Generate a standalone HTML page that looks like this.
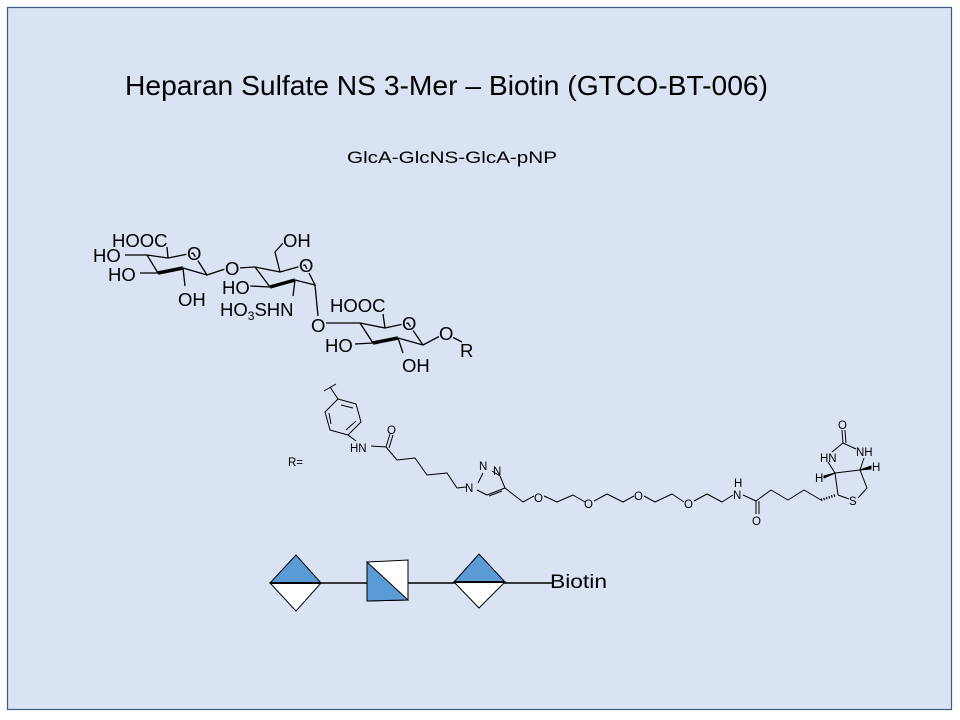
<!DOCTYPE html>
<html><head><meta charset="utf-8"><style>
html,body{margin:0;padding:0;background:#fff;width:960px;height:720px;overflow:hidden}
svg{display:block}
text{font-family:"Liberation Sans",sans-serif;fill:#000}
.m{stroke:#dae3f3;stroke-width:3;paint-order:stroke}
</style></head><body>
<svg width="960" height="720" viewBox="0 0 960 720" xmlns="http://www.w3.org/2000/svg">
<rect x="7.5" y="7.5" width="944" height="702" fill="#dae3f3" stroke="#3d5a80" stroke-width="1.2"/>
<text x="125" y="95" font-size="28" textLength="643" lengthAdjust="spacingAndGlyphs">Heparan Sulfate NS 3-Mer – Biotin (GTCO-BT-006)</text>
<text x="347" y="163" font-size="17" textLength="210" lengthAdjust="spacingAndGlyphs">GlcA-GlcNS-GlcA-pNP</text>

<g stroke="#000" stroke-width="1.3" fill="none" stroke-linejoin="round">
<!-- ring1 -->
<polyline points="147,255 158,273"/>
<polyline points="158,273 183,268" stroke-width="3.5"/>
<polyline points="183,268 207,275 193,253 168,258 147,255"/>
<line x1="168" y1="258" x2="167" y2="247"/>
<line x1="147" y1="255" x2="125" y2="255"/>
<line x1="158" y1="273" x2="140" y2="273"/>
<line x1="183" y1="268" x2="185" y2="286"/>
<line x1="207" y1="275" x2="228" y2="268"/>
<!-- ring2 -->
<line x1="238" y1="268" x2="255" y2="267"/>
<polyline points="255,267 270,287"/>
<polyline points="270,287 295,280" stroke-width="3.5"/>
<polyline points="295,280 315,285 305,265 280,272 255,267"/>
<polyline points="280,272 275,252 284,242"/>
<line x1="270" y1="287" x2="250" y2="286"/>
<line x1="295" y1="280" x2="293" y2="296"/>
<line x1="315" y1="285" x2="318" y2="316"/>
<!-- ring3 -->
<line x1="326" y1="323" x2="360" y2="323"/>
<polyline points="360,323 373,343"/>
<polyline points="373,343 398,338" stroke-width="3.5"/>
<polyline points="398,338 423,345 408,323 385,328 360,323"/>
<line x1="385" y1="328" x2="383" y2="314"/>
<line x1="373" y1="343" x2="355" y2="344"/>
<line x1="398" y1="338" x2="403" y2="353"/>
<line x1="423" y1="345" x2="440" y2="336"/>
<line x1="452" y1="337" x2="462" y2="342"/>
</g>
<g font-size="18.5">
<text x="112" y="247" class="m">HOOC</text>
<text x="93" y="262" class="m">HO</text>
<text x="108" y="281" class="m">HO</text>
<text x="178" y="306" class="m">OH</text>
<text x="187" y="260" class="m">O</text>
<text x="225" y="275" class="m">O</text>
<text x="283" y="247" class="m">OH</text>
<text x="299" y="272" class="m">O</text>
<text x="222" y="294" class="m">HO</text>
<text x="220" y="316" class="m">HO<tspan font-size="12" dy="4">3</tspan><tspan dy="-4">SHN</tspan></text>
<text x="311" y="332" class="m">O</text>
<text x="330" y="312" class="m">HOOC</text>
<text x="402" y="330" class="m">O</text>
<text x="325" y="352" class="m">HO</text>
<text x="402" y="372" class="m">OH</text>
<text x="439" y="340" class="m">O</text>
<text x="460" y="357">R</text>
</g>

<!-- R chain -->
<g stroke="#000" stroke-width="1" fill="none" stroke-linejoin="round">
<polygon points="338,399 356,404 361,422 348,435 330,430 325,412"/>
<line x1="341" y1="405" x2="353" y2="408"/>
<line x1="356" y1="421" x2="346" y2="430"/>
<line x1="331" y1="424" x2="329" y2="413"/>
<line x1="338" y1="399" x2="330" y2="387"/>
<line x1="324" y1="391" x2="336" y2="384"/>
<line x1="348" y1="435" x2="356" y2="441"/>
<polyline points="371,446 386,447 397,460 415,458 427,475 447,473 457,488 466,487"/>
<line x1="386" y1="447" x2="390" y2="434"/><line x1="389" y1="448" x2="393" y2="435"/>
<polyline points="478,483 483,473"/>
<polyline points="492,471 500,476 505,488 487,495 477,490"/>
<line x1="502" y1="491" x2="489" y2="496"/>
<polyline points="505,488 523,502 534,496"/>
<polyline points="544,496 557,502 573,495 585,502"/>
<polyline points="594,501 607,494 623,502 634,496"/>
<polyline points="644,496 655,502 672,494 684,502"/>
<polyline points="694,501 707,494 722,502 733,495"/>
<polyline points="743,495 756,501 771,490 788,500 804,490 821,500"/>
<line x1="756" y1="501" x2="756" y2="514"/><line x1="759" y1="501" x2="759" y2="514"/>
<line x1="821" y1="500" x2="836" y2="495" stroke-dasharray="1.2 1.5" stroke-width="2.5"/>
<polyline points="838,495 849,499"/>
<polyline points="858,498 867,488 860,470 835,473 838,495"/>
<polyline points="835,473 828,462"/><polyline points="860,470 864,458"/>
<polyline points="832,452 843,443 856,449"/>
<line x1="843" y1="443" x2="842" y2="430"/><line x1="846" y1="443" x2="845" y2="430"/>
<polygon points="835,473 824,478 824,476" fill="#000"/>
<polygon points="860,470 871,466 871,469" fill="#000"/>
</g>
<g font-size="11.5">
<text x="288" y="466">R=</text>
<text x="350" y="452">HN</text>
<text x="387" y="434">O</text>
<text x="465" y="492">N</text>
<text x="479" y="470">N</text><text x="493" y="475">N</text>
<text x="534" y="502">O</text>
<text x="584" y="508">O</text>
<text x="634" y="500">O</text>
<text x="684" y="508">O</text>
<text x="733" y="499">N</text><text x="734" y="487">H</text>
<text x="752" y="525">O</text>
<text x="849" y="505">S</text>
<text x="820" y="462">HN</text>
<text x="856" y="456">NH</text>
<text x="838" y="429">O</text>
<text x="815" y="482">H</text>
<text x="872" y="471">H</text>
</g>

<!-- symbol chain -->
<line x1="321" y1="583" x2="552" y2="583" stroke="#000" stroke-width="1.5"/>
<polygon points="270,583 296,555 321,583" fill="#5b9bd5" stroke="#000"/>
<polygon points="270,583 321,583 296,611" fill="#fff" stroke="#000"/>
<line x1="270" y1="583" x2="321" y2="583" stroke="#000" stroke-width="2"/>
<polygon points="367,562 408,560 408,600 367,601" fill="#fff" stroke="#000"/>
<polygon points="367,562 408,600 367,601" fill="#5b9bd5" stroke="#000"/>
<polygon points="454,582 479,554 505,582" fill="#5b9bd5" stroke="#000"/>
<polygon points="454,582 505,582 479,608" fill="#fff" stroke="#000"/>
<line x1="454" y1="582" x2="505" y2="582" stroke="#000" stroke-width="2"/>
<text x="550" y="588" font-size="19" textLength="57" lengthAdjust="spacingAndGlyphs">Biotin</text>
</svg>
</body></html>
